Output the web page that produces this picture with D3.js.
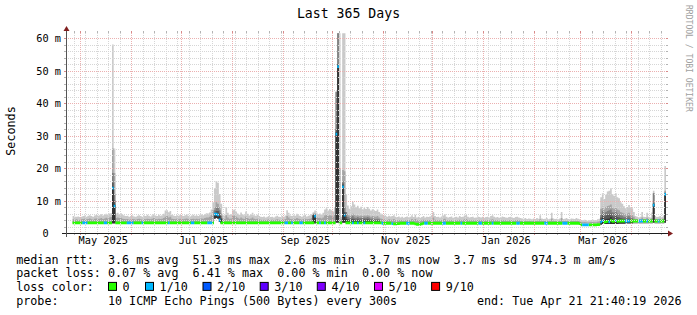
<!DOCTYPE html>
<html>
<head>
<meta charset="utf-8">
<script src="https://cdnjs.cloudflare.com/ajax/libs/d3/7.8.5/d3.min.js"></script>
<style>
  body { margin: 0; background: #fff; }
  svg text { font-family: "DejaVu Sans Mono", monospace; white-space: pre; }
</style>
</head>
<body>
<div id="chart"></div>
<script>
// graph covers the last 365 days, one bucket per day
var startTime = new Date(Date.UTC(2025, 3, 21, 21, 40, 19));
var endTime = new Date(Date.UTC(2026, 3, 21, 21, 40, 19));
var yMax = 61.54; // top of the graph, ms

// median rtt per day (ms)
var median = [
  null, null, null, null, 3.1, 3.1, 3.1, 3.1, 3.1, 3.1,
  3.1, 3.1, 3.1, 3.1, 3.1, 3.1, 3.1, 3.1, 3.1, 3.1,
  3.1, 3.1, 3.1, 3.1, 3.1, 3.1, 3.1, 3.1, 13.8, 8.3,
  3.1, 3.1, 3.1, 3.1, 3.1, 3.1, 3.1, 3.1, 3.1, 3.1,
  3.1, 3.1, 3.1, 3.1, 3.1, 3.1, 3.1, 3.1, 3.1, 3.1,
  3.1, 3.1, 3.1, 3.1, 3.1, 3.1, 3.1, 3.1, 3.1, 3.1,
  3.1, 3.1, 3.1, 3.1, 3.1, 3.1, 3.1, 3.1, 3.1, 3.1,
  3.1, 3.1, 3.1, 3.1, 3.1, 3.1, 3.1, 3.1, 3.1, 3.1,
  3.1, 3.1, 3.1, 3.1, 3.1, 3.1, 3.1, 3.1, 3.1, 3.1,
  5.8, 5.8, 5.6, 4.0, 3.1, 3.1, 3.1, 3.1, 3.1, 3.1,
  3.1, 3.1, 3.1, 3.1, 3.1, 3.1, 3.1, 3.1, 3.1, 3.1,
  3.1, 3.1, 3.1, 3.1, 3.1, 3.1, 3.1, 3.1, 3.1, 3.1,
  3.1, 3.1, 3.1, 3.1, 3.1, 3.1, 3.1, 3.1, 3.1, 3.1,
  3.1, 3.1, 3.1, 3.1, 3.1, 3.1, 3.1, 3.1, 3.1, 3.1,
  3.1, 3.1, 3.1, 3.1, 3.1, 3.1, 3.1, 3.1, 3.1, 3.1,
  3.1, 5.2, 3.1, 3.1, 3.1, 3.1, 3.1, 3.1, 3.1, 3.1,
  3.1, 3.1, 3.1, 3.1, 30.4, 51.2, 3.1, 3.1, 14.2, 5.5,
  3.1, 3.1, 3.1, 3.1, 3.1, 3.1, 3.1, 3.1, 3.1, 3.1,
  3.1, 3.1, 3.1, 3.1, 3.1, 3.1, 3.1, 3.1, 3.1, 3.1,
  3.1, 3.1, 3.0, 3.0, 3.0, 3.0, 3.0, 3.0, 2.9, 2.8,
  2.8, 2.9, 2.9, 3.0, 3.0, 3.0, 3.0, 3.0, 3.0, 3.0,
  3.0, 3.0, 2.8, 2.7, 2.7, 2.7, 2.8, 3.0, 3.0, 3.0,
  3.0, 3.0, 3.0, 3.0, 3.0, 3.0, 3.0, 3.0, 3.0, 3.0,
  3.0, 3.0, 3.0, 3.0, 3.0, 3.0, 3.0, 3.0, 3.0, 3.0,
  3.0, 3.0, 3.0, 3.0, 3.0, 3.0, 3.0, 3.0, 3.0, 3.0,
  3.0, 3.0, 3.0, 3.0, 3.0, 3.0, 3.0, 3.0, 3.0, 3.0,
  3.0, 3.0, 3.0, 3.0, 3.0, 3.0, 3.0, 3.0, 3.0, 3.0,
  3.0, 3.0, 3.0, 3.0, 3.0, 3.0, 3.0, 3.0, 3.0, 3.0,
  3.0, 3.0, 3.0, 3.0, 3.0, 3.0, 3.0, 3.0, 3.0, 3.0,
  3.0, 3.0, 3.0, 3.0, 3.0, 3.0, 3.0, 3.0, 3.0, 3.0,
  3.0, 3.0, 3.0, 3.0, 3.0, 3.0, 3.0, 3.0, 3.0, 3.0,
  3.0, 3.0, 2.9, 2.5, 2.5, 2.5, 2.5, 2.5, 2.5, 2.5,
  2.5, 2.5, 2.5, 2.6, 2.6, 3.4, 3.8, 3.3, 3.5, 3.6,
  3.4, 3.9, 3.6, 3.7, 3.8, 3.6, 3.7, 3.7, 3.7, 3.7,
  3.7, 3.7, 3.7, 3.7, 3.7, 3.7, 3.7, 3.7, 3.7, 3.7,
  3.7, 3.7, 3.7, 3.7, 3.7, 3.7, 3.7, 8.6, 3.7, 3.7,
  3.7, 3.7, 3.7, 3.7, 11.9
];

// lost pings out of 10, per day
var loss = [
  0, 0, 0, 0, 0, 0, 0, 0, 0, 0,
  1, 1, 1, 0, 0, 0, 0, 0, 0, 0,
  0, 0, 0, 1, 1, 0, 0, 0, 1, 1,
  0, 0, 0, 0, 0, 0, 0, 1, 1, 1,
  1, 0, 0, 0, 0, 0, 1, 0, 0, 0,
  0, 0, 0, 0, 0, 0, 0, 0, 0, 0,
  0, 0, 1, 0, 0, 0, 0, 0, 0, 0,
  0, 0, 0, 0, 0, 0, 1, 1, 0, 0,
  0, 0, 0, 0, 0, 0, 1, 1, 1, 0,
  1, 1, 1, 1, 0, 0, 0, 0, 0, 0,
  0, 0, 0, 0, 0, 0, 0, 0, 0, 0,
  0, 0, 0, 0, 0, 0, 0, 0, 0, 0,
  0, 0, 0, 0, 0, 0, 0, 0, 0, 0,
  0, 0, 0, 1, 1, 0, 0, 1, 0, 0,
  0, 0, 1, 1, 0, 0, 0, 0, 0, 0,
  0, 1, 0, 0, 1, 0, 0, 1, 0, 0,
  0, 0, 0, 0, 1, 1, 0, 0, 1, 1,
  0, 0, 0, 0, 1, 0, 0, 1, 0, 0,
  0, 1, 0, 0, 0, 0, 0, 0, 0, 0,
  0, 0, 1, 0, 0, 0, 0, 0, 1, 0,
  0, 0, 0, 0, 0, 0, 0, 1, 1, 0,
  0, 0, 0, 0, 0, 0, 0, 0, 1, 1,
  0, 0, 0, 0, 0, 0, 0, 0, 0, 1,
  1, 0, 0, 0, 0, 0, 0, 0, 0, 0,
  1, 0, 0, 0, 0, 0, 0, 0, 0, 0,
  0, 1, 1, 0, 0, 0, 0, 0, 0, 1,
  0, 0, 0, 0, 0, 0, 0, 0, 0, 0,
  0, 0, 0, 0, 1, 1, 0, 0, 0, 0,
  0, 0, 0, 0, 0, 0, 0, 0, 0, 0,
  0, 1, 1, 0, 0, 0, 0, 0, 0, 0,
  0, 0, 1, 1, 1, 0, 0, 0, 0, 0,
  0, 0, 0, 0, 1, 1, 1, 1, 0, 0,
  0, 0, 0, 0, 0, 1, 1, 0, 0, 0,
  1, 0, 0, 0, 1, 0, 0, 0, 0, 0,
  1, 1, 1, 0, 0, 0, 0, 0, 1, 1,
  1, 0, 0, 1, 0, 0, 0, 1, 0, 0,
  1, 0, 0, 0, 1
];

// slowest ping of the day (top of the light smoke), ms
var pingMax = [
  null, null, null, null, 5.2, 5.0, 5.0, 5.1, 4.9, 5.0,
  5.2, 5.4, 5.0, 5.3, 5.5, 5.2, 5.0, 5.4, 5.6, 5.3,
  5.5, 5.8, 5.4, 5.6, 5.9, 5.7, 6.0, 6.1, 58.0, 26.0,
  6.0, 6.2, 5.8, 6.1, 5.6, 5.4, 5.2, 5.3, 5.0, 5.2,
  5.4, 5.1, 5.0, 5.3, 5.5, 5.2, 5.0, 5.4, 5.2, 5.6,
  5.3, 5.1, 5.5, 5.8, 5.4, 5.2, 5.6, 5.3, 5.5, 5.9,
  6.9, 7.0, 6.4, 6.8, 5.6, 5.4, 5.2, 5.5, 5.3, 5.6,
  5.4, 5.2, 5.5, 5.8, 5.3, 5.1, 5.4, 5.6, 5.3, 5.5,
  5.2, 5.6, 5.7, 5.5, 5.8, 6.1, 6.0, 6.3, 7.2, 9.5,
  13.8, 16.0, 15.5, 12.0, 9.0, 5.6, 5.4, 8.0, 6.2, 5.6,
  5.8, 7.0, 7.2, 6.6, 6.0, 5.6, 6.3, 5.8, 5.5, 6.6,
  5.9, 5.4, 5.7, 6.2, 5.5, 5.3, 5.6, 5.2, 5.0, 4.9,
  5.1, 4.8, 5.0, 5.2, 4.9, 5.0, 4.8, 5.1, 5.3, 5.0,
  4.9, 5.2, 5.0, 5.4, 7.0, 6.2, 5.4, 5.2, 5.6, 5.3,
  5.9, 5.5, 5.2, 5.0, 5.4, 5.6, 5.1, 5.3, 5.5, 5.8,
  6.4, 6.9, 6.3, 5.8, 6.0, 5.7, 6.2, 7.2, 7.6, 6.9,
  7.4, 7.0, 6.6, 8.0, 43.5, 61.5, 61.5, 5.0, 61.5, 61.5,
  12.0, 8.5, 7.5, 8.2, 9.6, 8.8, 7.9, 8.4, 7.6, 8.1,
  7.2, 7.8, 7.4, 8.0, 7.5, 6.9, 7.3, 7.0, 6.8, 7.2,
  6.5, 6.0, 5.6, 5.4, 5.2, 5.0, 5.3, 5.1, 5.2, 5.5,
  5.0, 4.9, 5.1, 4.8, 5.0, 4.7, 4.9, 5.1, 4.8, 5.0,
  5.5, 4.9, 5.6, 4.8, 5.0, 4.7, 4.9, 5.2, 4.8, 5.0,
  4.9, 5.1, 5.3, 6.5, 5.2, 4.9, 5.0, 4.8, 5.1, 5.4,
  5.8, 5.0, 4.8, 4.9, 5.1, 4.7, 4.9, 5.0, 4.8, 5.2,
  4.9, 5.0, 5.4, 5.6, 5.0, 4.8, 4.9, 5.0, 4.7, 4.8,
  5.1, 4.9, 4.8, 5.0, 4.7, 4.9, 5.0, 4.8, 5.2, 5.5,
  5.0, 4.8, 4.9, 4.7, 4.8, 5.1, 4.9, 4.8, 4.7, 4.9,
  5.0, 4.8, 4.6, 4.9, 5.0, 4.8, 4.6, 4.5, 4.4, 4.6,
  4.3, 4.5, 4.4, 4.2, 4.5, 4.3, 4.6, 4.4, 5.5, 4.5,
  4.3, 4.4, 4.6, 4.2, 4.4, 6.2, 4.5, 4.3, 4.4, 4.2,
  4.5, 6.5, 4.3, 4.4, 4.6, 4.3, 4.2, 4.5, 4.4, 4.3,
  4.6, 4.4, 4.2, 4.0, 3.9, 4.1, 4.0, 3.8, 3.9, 4.0,
  4.1, 3.9, 4.0, 4.2, 4.4, 11.0, 12.2, 10.5, 11.8, 12.8,
  13.0, 13.8, 12.0, 11.5, 12.2, 11.0, 10.7, 9.5, 9.0, 8.2,
  7.6, 8.0, 8.6, 7.8, 7.6, 6.5, 5.2, 5.0, 4.8, 5.0,
  6.5, 5.0, 4.9, 6.2, 5.0, 4.8, 6.3, 13.0, 5.2, 4.9,
  5.0, 5.2, 4.9, 5.4, 20.6
];

// second slowest ping (top of the mid grey smoke), ms
var ping9 = [
  null, null, null, null, 4.2, 4.1, 4.2, 4.0, 4.1, 4.2,
  4.3, 4.4, 4.2, 4.3, 4.5, 4.2, 4.1, 4.4, 4.5, 4.3,
  4.4, 4.6, 4.3, 4.5, 4.7, 4.5, 4.8, 4.9, 26.0, 18.5,
  4.6, 4.8, 4.6, 4.7, 4.4, 4.3, 4.2, 4.3, 4.1, 4.2,
  4.3, 4.2, 4.1, 4.3, 4.4, 4.2, 4.1, 4.3, 4.2, 4.4,
  4.3, 4.2, 4.4, 4.6, 4.3, 4.2, 4.4, 4.3, 4.4, 4.6,
  5.0, 5.2, 4.8, 5.0, 4.4, 4.3, 4.2, 4.4, 4.2, 4.4,
  4.3, 4.2, 4.4, 4.5, 4.3, 4.2, 4.3, 4.4, 4.2, 4.4,
  4.2, 4.4, 4.5, 4.4, 4.6, 4.8, 4.8, 5.0, 5.6, 7.0,
  8.0, 9.5, 9.0, 8.0, 6.0, 4.5, 4.3, 5.5, 4.8, 4.4,
  4.5, 5.2, 5.4, 5.0, 4.7, 4.4, 4.8, 4.5, 4.3, 5.0,
  4.6, 4.3, 4.5, 4.8, 4.4, 4.2, 4.4, 4.2, 4.1, 4.0,
  4.1, 4.0, 4.1, 4.2, 4.0, 4.1, 4.0, 4.1, 4.2, 4.1,
  4.0, 4.2, 4.1, 4.3, 5.2, 4.8, 4.3, 4.2, 4.4, 4.3,
  4.6, 4.4, 4.2, 4.1, 4.3, 4.4, 4.2, 4.3, 4.4, 4.6,
  6.0, 6.0, 4.9, 4.6, 4.7, 4.5, 4.8, 5.4, 5.7, 5.2,
  5.5, 5.3, 5.0, 5.8, 43.5, 61.5, 20.0, 4.2, 19.4, 19.0,
  6.5, 5.8, 5.4, 5.6, 5.9, 5.6, 5.3, 5.5, 5.2, 5.4,
  5.2, 5.4, 5.3, 5.5, 5.3, 5.0, 5.2, 5.1, 5.0, 5.2,
  4.8, 4.5, 4.3, 4.2, 4.1, 4.0, 4.2, 4.1, 4.1, 4.3,
  4.0, 3.9, 4.0, 3.9, 4.0, 3.8, 3.9, 4.0, 3.9, 4.0,
  4.3, 3.9, 4.3, 3.9, 4.0, 3.8, 3.9, 4.1, 3.9, 4.0,
  3.9, 4.0, 4.1, 4.8, 4.1, 3.9, 4.0, 3.9, 4.0, 4.2,
  4.4, 4.0, 3.9, 3.9, 4.0, 3.8, 3.9, 4.0, 3.9, 4.1,
  3.9, 4.0, 4.2, 4.3, 4.0, 3.9, 3.9, 4.0, 3.8, 3.9,
  4.0, 3.9, 3.9, 4.0, 3.8, 3.9, 4.0, 3.9, 4.1, 4.2,
  4.0, 3.9, 3.9, 3.8, 3.9, 4.0, 3.9, 3.9, 3.8, 3.9,
  4.0, 3.9, 3.8, 3.9, 4.0, 3.9, 3.8, 3.7, 3.7, 3.8,
  3.7, 3.8, 3.7, 3.6, 3.8, 3.7, 3.8, 3.7, 4.2, 3.8,
  3.7, 3.7, 3.8, 3.6, 3.7, 4.5, 3.8, 3.7, 3.7, 3.6,
  3.8, 4.6, 3.7, 3.7, 3.8, 3.7, 3.6, 3.8, 3.7, 3.7,
  3.8, 3.7, 3.6, 3.4, 3.3, 3.4, 3.3, 3.2, 3.3, 3.4,
  3.4, 3.3, 3.3, 3.5, 3.6, 7.5, 8.1, 7.2, 8.0, 8.3,
  8.5, 8.8, 7.8, 7.5, 8.0, 7.2, 7.0, 6.5, 6.2, 6.0,
  5.8, 6.0, 6.2, 5.6, 5.5, 5.0, 4.4, 4.3, 4.2, 4.3,
  4.8, 4.3, 4.2, 4.7, 4.3, 4.2, 4.6, 12.2, 4.4, 4.2,
  4.3, 4.4, 4.2, 4.5, 13.0
];

// days where the inner smoke shows: [day, fastest ping, ping 6, ping 7, ping 8] in ms
var innerSmoke = [
  [28, 3.0, 14.2, 15.5, 18.5], [29, 3.0, 8.8, 10.0, 12.0],
  [90, 4.5, 5.8, 6.0, 7.0], [91, 4.6, 6.0, 6.8, 7.8], [92, 4.5, 6.0, 6.8, 7.8],
  [93, 3.5, 5.2, 6.0, 7.0], [94, 3.0, 4.2, 4.6, 5.2],
  [150, 3.0, 5.4, 5.6, 5.8], [151, 3.0, 5.4, 5.6, 5.8],
  [164, 3.2, 31.0, 32.0, 43.5], [165, 3.2, 51.5, 52.0, 61.5],
  [168, 3.2, 14.8, 15.2, 16.0], [169, 3.2, 6.0, 6.5, 8.0],
  [170, 3.2, 4.2, 5.0, 6.5], [171, 3.0, 3.8, 4.3, 5.0],
  [172, 3.0, 3.6, 4.1, 4.7], [173, 3.0, 3.7, 4.3, 4.9], [174, 3.0, 3.8, 4.4, 5.2],
  [175, 3.0, 3.7, 4.2, 4.8], [176, 3.0, 3.6, 4.0, 4.6], [177, 3.0, 3.7, 4.2, 4.9],
  [178, 3.0, 3.6, 4.0, 4.6], [179, 3.0, 3.6, 4.1, 4.7], [180, 3.0, 3.6, 4.0, 4.6],
  [181, 3.0, 3.7, 4.2, 4.8], [182, 3.0, 3.6, 4.1, 4.7], [183, 3.0, 3.7, 4.3, 4.9],
  [184, 3.0, 3.6, 4.1, 4.7], [185, 3.0, 3.5, 3.9, 4.4], [186, 3.0, 3.6, 4.0, 4.5],
  [187, 3.0, 3.5, 3.9, 4.3], [188, 3.0, 3.5, 3.8, 4.2], [189, 3.0, 3.5, 3.9, 4.4],
  [190, 3.0, 3.5, 3.8, 4.2],
  [325, 2.6, 3.8, 4.8, 5.8], [326, 2.8, 4.6, 5.6, 6.8], [327, 2.8, 3.9, 5.0, 6.0],
  [328, 2.8, 4.2, 5.4, 6.5], [329, 2.8, 4.4, 5.6, 6.8], [330, 2.8, 4.5, 5.8, 7.0],
  [331, 2.8, 4.9, 6.0, 7.2], [332, 2.8, 4.2, 5.2, 6.4], [333, 2.8, 4.0, 5.0, 6.2],
  [334, 2.8, 4.4, 5.4, 6.6], [335, 2.8, 4.0, 4.9, 6.0], [336, 2.9, 3.9, 4.8, 5.8],
  [337, 2.9, 3.9, 4.6, 5.5], [338, 2.9, 3.9, 4.5, 5.3], [339, 2.9, 3.9, 4.4, 5.0],
  [340, 3.0, 3.9, 4.3, 4.9], [341, 3.0, 4.0, 4.4, 5.1], [342, 3.0, 4.0, 4.5, 5.2],
  [343, 3.0, 3.9, 4.3, 4.8], [344, 3.0, 3.9, 4.2, 4.7],
  [357, 3.2, 9.0, 9.1, 12.2], [364, 3.2, 12.0, 12.2, 12.5]
];
var minRtt = 2.9; // bottom of the smoke on the other days

var yTicks = [0, 10, 20, 30, 40, 50, 60];
var yTickLabels = ["0  ", "10 m", "20 m", "30 m", "40 m", "50 m", "60 m"];

var lossLabels = ["0", "1/10", "2/10", "3/10", "4/10", "5/10", "9/10"];
var lossLevels = [0, 1, 2, 3, 4, 5, 9];
var lossColors = ["#26ff00", "#00b8ff", "#0059ff", "#5e00ff", "#7e00ff", "#dd00ff", "#ff0000"];

var rttStats = ["3.6 ms avg", "51.3 ms max", "2.6 ms min", "3.7 ms now", "3.7 ms sd", "974.3 m am/s"];
var lossStats = ["0.07 % avg", "6.41 % max", "0.00 % min", "0.00 % now"];
var probeText = "10 ICMP Echo Pings (500 Bytes) every 300s";
var endText = "end: Tue Apr 21 21:40:19 2026";

// smoke shades, outermost pair of pings first
var smokeShades = ["#cacaca", "#a4a4a4", "#7e7e7e", "#585858", "#323232"];

// ------------------------------------------------------------------
var W = 697, H = 315;
var plot = { left: 66, right: 666, top: 33, bottom: 233 };

var svg = d3.select("#chart")
    .append("svg")
    .attr("width", W)
    .attr("height", H);

svg.append("rect").attr("width", W).attr("height", H).attr("fill", "#fff");

var x = d3.scaleUtc()
    .domain([startTime, endTime])
    .range([plot.left, plot.right]);

var y = d3.scaleLinear()
    .domain([0, yMax])
    .range([plot.bottom, plot.top]);

// one record per day
var days = median.map(function (m, i) {
    return {
        t0: d3.utcDay.offset(startTime, i),
        t1: d3.utcDay.offset(startTime, i + 1),
        med: m, loss: loss[i],
        p10: pingMax[i], p9: ping9[i],
        lo: minRtt, p8: null, p7: null, p6: null
    };
});
innerSmoke.forEach(function (r) {
    var d = days[r[0]];
    d.lo = r[1]; d.p6 = r[2]; d.p7 = r[3]; d.p8 = r[4];
});

// each day becomes a flat step from its start to its end
var steps = [];
days.forEach(function (d) {
    steps.push({ t: d.t0, d: d });
    steps.push({ t: d.t1, d: d });
});

svg.append("clipPath").attr("id", "clip")
    .append("rect")
    .attr("x", plot.left).attr("y", plot.top)
    .attr("width", plot.right - plot.left).attr("height", plot.bottom - plot.top);

var g = svg.append("g").attr("clip-path", "url(#clip)");

// smoke
["p10", "p9", "p8", "p7", "p6"].forEach(function (key, k) {
    var area = d3.area()
        .defined(function (p) { return p.d[key] != null; })
        .x(function (p) { return x(p.t); })
        .y0(function (p) { return y(p.d.lo); })
        .y1(function (p) { return y(p.d[key]); });
    g.append("path")
        .attr("d", area(steps))
        .attr("fill", smokeShades[k]);
});

// median, coloured by loss
lossLevels.forEach(function (lv, k) {
    var band = d3.area()
        .defined(function (p) { return p.d.med != null && p.d.loss === lv; })
        .x(function (p) { return x(p.t); })
        .y0(function (p) { return y(p.d.med) + 1.4; })
        .y1(function (p) { return y(p.d.med) - 1.4; });
    g.append("path")
        .attr("d", band(steps))
        .attr("fill", lossColors[k]);
});

// grid (drawn over the graph like rrdtool does)
var grid = svg.append("g").attr("shape-rendering", "crispEdges");
var py = function (v) { return Math.round(y(v)) + 0.5; };
var px = function (t) { return Math.floor(x(t)) + 0.5; };

var minorY = d3.range(2, yMax, 2).filter(function (v) { return v % 10 !== 0; });
var majorY = yTicks.filter(function (v) { return v > 0; });
var minorX = d3.utcSunday.range(startTime, endTime);
var majorX = d3.utcMonth.range(startTime, endTime);

function hLines(vals, color, tick) {
    grid.selectAll(null).data(vals).enter().append("line")
        .attr("x1", plot.left).attr("x2", plot.right)
        .attr("y1", py).attr("y2", py)
        .attr("stroke", color).attr("stroke-dasharray", "1,1");
    grid.selectAll(null).data(vals).enter().append("path")
        .attr("d", function (v) {
            return "M" + (plot.left - 2) + "," + py(v) + "H" + plot.left +
                "M" + plot.right + "," + py(v) + "H" + (plot.right + 2);
        })
        .attr("stroke", tick);
}
function vLines(vals, color, tick) {
    grid.selectAll(null).data(vals).enter().append("line")
        .attr("x1", px).attr("x2", px)
        .attr("y1", plot.top).attr("y2", plot.bottom)
        .attr("stroke", color).attr("stroke-dasharray", "1,1");
    grid.selectAll(null).data(vals).enter().append("path")
        .attr("d", function (t) {
            return "M" + px(t) + "," + (plot.top - 2) + "V" + plot.top +
                "M" + px(t) + "," + plot.bottom + "V" + (plot.bottom + 2);
        })
        .attr("stroke", tick);
}
hLines(minorY, "#d6d6d6", "#b4b4b4");
vLines(minorX, "#d6d6d6", "#b4b4b4");
hLines(majorY, "#ebb0b0", "#d88a8a");
vLines(majorX, "#ebb0b0", "#d88a8a");

// axes and arrows
svg.append("path")
    .attr("d", "M" + (plot.left - 4) + "," + (plot.bottom + 0.5) + "H" + (plot.right + 4))
    .attr("stroke", "#1f1f1f");
svg.append("path")
    .attr("d", "M" + (plot.left + 0.5) + "," + (plot.bottom + 4) + "V" + (plot.top - 4))
    .attr("stroke", "#555");
svg.append("path")
    .attr("d", "M" + (plot.right + 2) + "," + (plot.bottom - 2.5) + "L" + (plot.right + 7) + "," + (plot.bottom + 0.5) +
        "L" + (plot.right + 2) + "," + (plot.bottom + 3.5) + "Z")
    .attr("fill", "#801f1f");
svg.append("path")
    .attr("d", "M" + (plot.left - 2.5) + "," + (plot.top - 2) + "L" + (plot.left + 0.5) + "," + (plot.top - 7) +
        "L" + (plot.left + 3.5) + "," + (plot.top - 2) + "Z")
    .attr("fill", "#801f1f");

// y tick labels
svg.selectAll(null).data(yTicks).enter().append("text")
    .attr("x", 61)
    .attr("y", function (v) { return Math.round(y(v)) + 4; })
    .attr("text-anchor", "end")
    .attr("font-size", "10.27px")
    .text(function (v, i) { return yTickLabels[i]; });

// x labels, every second month, centred about half a month after the month start
var labelShift = 13.6 * 864e5;
svg.selectAll(null).data(d3.utcMonth.every(2).range(startTime, endTime)).enter().append("text")
    .attr("x", function (t) { return x(new Date(+t + labelShift)); })
    .attr("y", 244)
    .attr("text-anchor", "middle")
    .attr("font-size", "10.27px")
    .text(d3.utcFormat("%b %Y"));

// title, unit label, watermark
svg.append("text")
    .attr("x", 348.5).attr("y", 18)
    .attr("text-anchor", "middle")
    .attr("font-size", "13.2px")
    .text("Last 365 Days");

svg.append("text")
    .attr("transform", "translate(15,131)rotate(-90)")
    .attr("text-anchor", "middle")
    .attr("font-size", "11.73px")
    .text("Seconds");

svg.append("text")
    .attr("transform", "translate(685.5,5)rotate(90)")
    .attr("font-size", "8.07px")
    .attr("fill", "#a0a0a0")
    .text("RRDTOOL / TOBI OETIKER");

// legend, monospace rows
var rowY = [263.5, 277.2, 290.9, 304.6];
var leg = svg.append("g").attr("font-size", "11.73px");
function legText(xp, row, s) {
    return leg.append("text").attr("x", xp).attr("y", rowY[row]).text(s);
}
legText(16.2, 0, "median rtt:  " + rttStats.join("  "));
legText(16.2, 1, "packet loss: " + lossStats.join("  "));
legText(16.2, 2, "loss color:");
[108, 145, 202.5, 259.7, 316.8, 374, 431.1].forEach(function (xp, i) {
    leg.append("rect")
        .attr("x", xp + 0.5).attr("y", rowY[2] - 8.5)
        .attr("width", 8).attr("height", 8)
        .attr("fill", lossColors[i]).attr("stroke", "#000");
    legText(xp + 14.6, 2, lossLabels[i]);
});
legText(16.2, 3, "probe:       " + probeText);
legText(681.5, 3, endText).attr("text-anchor", "end");
</script>
</body>
</html>
